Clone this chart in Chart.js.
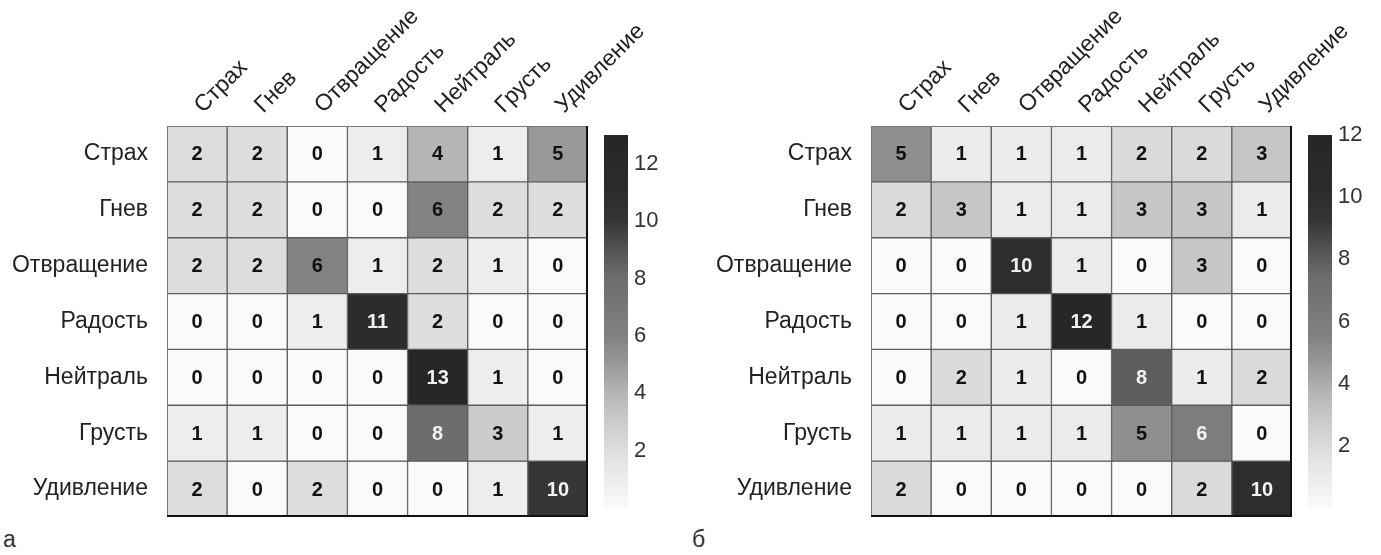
<!DOCTYPE html>
<html>
<head>
<meta charset="utf-8">
<script src="https://cdn.jsdelivr.net/npm/chart.js@4.4.0/dist/chart.umd.min.js"></script>
<style>
  body { margin: 0; background: #fff; width: 1381px; height: 555px; position: relative; overflow: hidden;
         font-family: "Liberation Sans", Arial, sans-serif; }
  .box { position: absolute; }
  .tag { position: absolute; font-size: 23px; color: #333; }
</style>
</head>
<body>
<div class="box" style="left:0;top:0;width:690px;height:520px"><canvas id="cmA"></canvas></div>
<div class="box" style="left:600px;top:125px;width:66px;height:395px"><canvas id="barA"></canvas></div>
<div class="box" style="left:690px;top:0;width:691px;height:520px"><canvas id="cmB"></canvas></div>
<div class="box" style="left:1304px;top:125px;width:66px;height:395px"><canvas id="barB"></canvas></div>
<div class="tag" style="left:3px;top:526px">а</div>
<div class="tag" style="left:692px;top:526px">б</div>

<script>
// --- Data ---
const emotions = ['Страх', 'Гнев', 'Отвращение', 'Радость', 'Нейтраль', 'Грусть', 'Удивление'];

const matrixA = [
  [2, 2, 0, 1, 4, 1, 5],
  [2, 2, 0, 0, 6, 2, 2],
  [2, 2, 6, 1, 2, 1, 0],
  [0, 0, 1, 11, 2, 0, 0],
  [0, 0, 0, 0, 13, 1, 0],
  [1, 1, 0, 0, 8, 3, 1],
  [2, 0, 2, 0, 0, 1, 10]
];
const matrixB = [
  [5, 1, 1, 1, 2, 2, 3],
  [2, 3, 1, 1, 3, 3, 1],
  [0, 0, 10, 1, 0, 3, 0],
  [0, 0, 1, 12, 1, 0, 0],
  [0, 2, 1, 0, 8, 1, 2],
  [1, 1, 1, 1, 5, 6, 0],
  [2, 0, 0, 0, 0, 2, 10]
];
const maxA = 13;
const maxB = 12;
const barTicks = [2, 4, 6, 8, 10, 12];

// grey colour map (fraction of max -> grey level)
const greyStops = [
  [0, 250], [0.08, 236], [0.16, 220], [0.25, 198], [0.31, 180], [0.4, 148],
  [0.46, 130], [0.62, 108], [0.67, 92], [0.77, 54], [0.85, 44], [1, 38]
];

function grey(t) {
  t = Math.max(0, Math.min(1, t));
  for (let i = 1; i < greyStops.length; i++) {
    const [t1, g1] = greyStops[i];
    const [t0, g0] = greyStops[i - 1];
    if (t <= t1) {
      const g = Math.round(g0 + (g1 - g0) * (t - t0) / (t1 - t0));
      return `rgb(${g},${g},${g})`;
    }
  }
  return 'rgb(38,38,38)';
}

const fontFamily = '"Liberation Sans", Arial, sans-serif';
Chart.defaults.font.family = fontFamily;

// numbers inside cells + frame around the grid
const cellText = {
  id: 'cellText',
  afterDatasetsDraw(chart) {
    const ctx = chart.ctx;
    const vmax = chart.options.plugins.cellText.vmax;
    ctx.save();
    ctx.font = 'bold 20px ' + fontFamily;
    ctx.textAlign = 'center';
    ctx.textBaseline = 'middle';
    chart.data.datasets.forEach((ds, i) => {
      chart.getDatasetMeta(i).data.forEach((bar, j) => {
        const v = ds.values[j];
        ctx.fillStyle = v / vmax > 0.48 ? '#f2f2f2' : '#111';
        ctx.fillText(v, bar.x, (bar.y + bar.base) / 2 + 1);
      });
    });
    const a = chart.chartArea;
    ctx.strokeStyle = '#777';
    ctx.lineWidth = 1;
    ctx.beginPath();
    ctx.moveTo(a.left + 0.5, a.bottom);
    ctx.lineTo(a.left + 0.5, a.top + 0.5);
    ctx.lineTo(a.right, a.top + 0.5);
    ctx.stroke();
    ctx.strokeStyle = '#111';
    ctx.lineWidth = 2;
    ctx.beginPath();
    ctx.moveTo(a.right - 1, a.top);
    ctx.lineTo(a.right - 1, a.bottom - 1);
    ctx.lineTo(a.left, a.bottom - 1);
    ctx.stroke();
    ctx.restore();
  }
};

function heatmap(id, matrix, vmax, yWidth, padRight) {
  const datasets = matrix.map((row, r) => ({
    data: row.map(() => [r, r + 1]),
    values: row,
    backgroundColor: row.map(v => grey(v / vmax)),
    borderColor: '#5c5c5c',
    borderWidth: 1,
    borderSkipped: false,
    barPercentage: 1,
    categoryPercentage: 1,
    grouped: false
  }));

  new Chart(document.getElementById(id), {
    type: 'bar',
    data: { labels: emotions, datasets },
    options: {
      responsive: true,
      maintainAspectRatio: false,
      animation: false,
      layout: { padding: { right: padRight, bottom: 3 } },
      plugins: {
        legend: { display: false },
        tooltip: { enabled: false },
        cellText: { vmax }
      },
      scales: {
        x: {
          position: 'top',
          grid: { display: false, drawTicks: false },
          border: { display: false },
          ticks: { autoSkip: false, minRotation: 45, maxRotation: 45, padding: 7, labelOffset: 21,
                   color: '#222', font: { size: 23 } },
          afterFit: s => { s.height = 126; s.paddingLeft = 0; s.paddingRight = 0; }
        },
        y: {
          min: 0,
          max: 7,
          reverse: true,
          grid: { display: false, drawTicks: false },
          border: { display: false },
          afterBuildTicks: s => { s.ticks = emotions.map((e, i) => ({ value: i + 0.5 })); },
          ticks: { padding: 19, color: '#222', font: { size: 23 }, callback: (v, i) => emotions[i] },
          afterFit: s => { s.width = yWidth; s.paddingTop = 0; s.paddingBottom = 0; }
        }
      }
    },
    plugins: [cellText]
  });
}

function colorbar(id, vmax) {
  new Chart(document.getElementById(id), {
    type: 'bar',
    data: {
      labels: [''],
      datasets: [{
        data: [[0, vmax]],
        backgroundColor: ctx => {
          const a = ctx.chart.chartArea;
          if (!a) return '#888';
          const g = ctx.chart.ctx.createLinearGradient(0, a.bottom, 0, a.top);
          greyStops.forEach(([t]) => g.addColorStop(t, grey(t)));
          return g;
        },
        borderWidth: 0,
        barPercentage: 1,
        categoryPercentage: 1
      }]
    },
    options: {
      responsive: true,
      maintainAspectRatio: false,
      animation: false,
      layout: { padding: { left: 4, top: 10, bottom: 12 } },
      plugins: { legend: { display: false }, tooltip: { enabled: false } },
      scales: {
        x: { display: false },
        y: {
          position: 'right',
          min: 0,
          max: vmax,
          grid: { display: false, drawTicks: false },
          border: { display: false },
          afterBuildTicks: s => { s.ticks = barTicks.map(v => ({ value: v })); },
          ticks: { padding: 6, color: '#333', font: { size: 22 } },
          afterFit: s => { s.width = 38; s.paddingTop = 0; s.paddingBottom = 0; }
        }
      }
    }
  });
}

heatmap('cmA', matrixA, maxA, 167, 102);
colorbar('barA', maxA);
heatmap('cmB', matrixB, maxB, 181, 89);
colorbar('barB', maxB);
</script>
</body>
</html>
